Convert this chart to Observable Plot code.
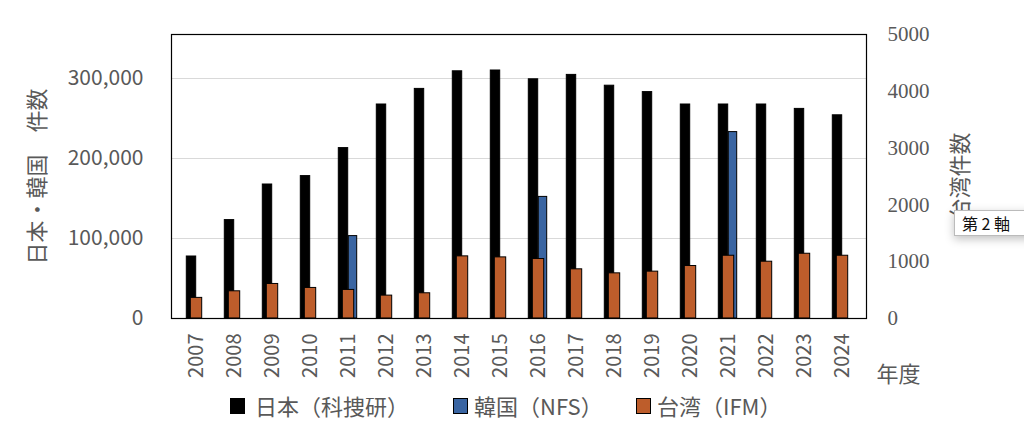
<!DOCTYPE html>
<html><head><meta charset="utf-8">
<script src="https://cdn.jsdelivr.net/npm/d3@7"></script>
<script src="https://cdn.jsdelivr.net/npm/@observablehq/plot@0.6"></script>
<style>
html,body{margin:0;padding:0;background:#fff;width:1024px;height:442px;overflow:hidden;position:relative;}
#chart{position:absolute;left:0;top:0;}
.leg{position:absolute;top:392px;height:26px;line-height:26px;font-family:"Noto Sans CJK JP","Noto Sans",sans-serif;font-size:22px;color:#595959;white-space:nowrap;}
.sw{position:absolute;top:398px;width:13px;height:14px;border:1px solid #000;box-sizing:content-box;}
#tip{position:absolute;left:954px;top:210px;width:120px;height:24px;background:#fff;border:1px solid #bbb;box-shadow:0 3px 10px rgba(0,0,0,0.25);font-family:"Noto Sans CJK JP",sans-serif;font-size:16px;line-height:24px;color:#111;padding-left:7px;white-space:nowrap;}
</style></head>
<body>
<div id="chart"></div>
<script>
const years = ["2007","2008","2009","2010","2011","2012","2013","2014","2015","2016","2017","2018","2019","2020","2021","2022","2023","2024"];
const japan = [77500,123000,167500,178000,213000,267500,287000,309000,310000,299000,304500,291000,283000,267500,267500,267500,262000,254000];
const korea = [null,null,null,null,103000,null,null,null,null,152000,null,null,null,null,233000,null,null,null];
const taiwan = [363,479,608,538,503,403,444,1094,1076,1047,866,795,825,924,1105,1000,1140,1105];
const leftTicks = [0,100000,200000,300000];
const rightTicks = [0,1000,2000,3000,4000,5000];
const seriesNames = ["日本（科捜研）","韓国（NFS）","台湾（IFM）"];
const colors = ["#000000","#3a65a2","#bd5d2b"];
const leftMax = 355000, rightMax = 5000, k = leftMax / rightMax;

const rows = years.map((y,i)=>({year:y, jp:japan[i], kr:korea[i], tw:taiwan[i]}));
const gray = "#595959";
const sans = "'Noto Sans CJK JP','Noto Sans',sans-serif";

const plot = Plot.plot({
  width: 1024, height: 390,
  marginLeft: 171, marginRight: 158, marginTop: 34, marginBottom: 72,
  style: {background: "#fff", fontFamily: sans},
  x: {domain: years, paddingInner: 0, paddingOuter: 0, label: null},
  y: {domain: [0, leftMax], label: null},
  marks: [
    Plot.gridY(leftTicks.slice(1), {stroke: "#d9d9d9", strokeOpacity: 1}),
    Plot.barY(rows, {x: "year", y: "jp", fill: colors[0], stroke: "#000", strokeWidth: 1, insetLeft: 9.3, insetRight: 19.3}),
    Plot.barY(rows.filter(d => d.kr != null), {x: "year", y: "kr", fill: colors[1], stroke: "#000", strokeWidth: 1, insetLeft: 19.3, insetRight: 10.3}),
    Plot.barY(rows, {x: "year", y: d => d.tw * k, fill: colors[2], stroke: "#000", strokeWidth: 1, insetLeft: 13.3, insetRight: 13.3}),
    Plot.frame({stroke: "#000", strokeWidth: 1.2}),
    Plot.axisY(leftTicks, {anchor: "left", tickSize: 0, tickPadding: 28, tickFormat: d3.format(","), fontSize: 21, fill: gray, label: null}),
    Plot.text(rightTicks, {y: d => d * k, frameAnchor: "right", dx: 21, textAnchor: "start", text: d => String(d), fontSize: 21, fill: gray, fontFamily: "'Liberation Serif','DejaVu Serif',serif"}),
    Plot.axisX(years, {anchor: "bottom", tickSize: 0, tickPadding: 15, tickRotate: -90, fontSize: 20, fill: gray, label: null}),
    Plot.text(["日本・韓国　件数"], {frameAnchor: "left", dx: -134, rotate: -90, textAnchor: "middle", fontSize: 22, fill: gray}),
    Plot.text(["台湾件数"], {frameAnchor: "right", dx: 94, rotate: -90, textAnchor: "middle", fontSize: 22, fill: gray}),
    Plot.text(["年度"], {frameAnchor: "bottom-right", dx: 10, dy: 63, textAnchor: "start", fontSize: 22, fill: gray})
  ]
});
document.getElementById("chart").appendChild(plot);

const legPos = [[230,255],[453,474],[636,657]];
seriesNames.forEach((n,i)=>{
  const s = document.createElement("div"); s.className="sw"; s.style.left=legPos[i][0]+"px"; s.style.background=colors[i]; document.body.appendChild(s);
  const t = document.createElement("div"); t.className="leg"; t.style.left=legPos[i][1]+"px"; t.textContent=n; document.body.appendChild(t);
});
const tip = document.createElement("div"); tip.id="tip"; tip.textContent="第 2 軸"; document.body.appendChild(tip);
</script>
</body></html>
